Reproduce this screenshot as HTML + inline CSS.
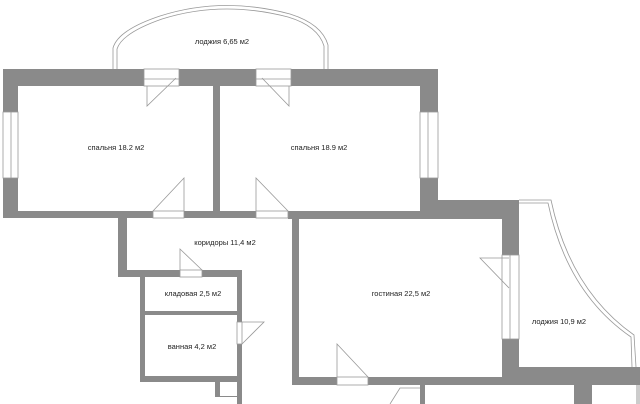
<!DOCTYPE html>
<html><head><meta charset="utf-8"><style>
html,body{margin:0;padding:0;background:#fff;width:640px;height:404px;overflow:hidden}
svg{display:block}
text{font-family:"Liberation Sans",sans-serif;font-size:7.5px;fill:#222}
</style></head><body>
<svg width="640" height="404" viewBox="0 0 640 404" xmlns="http://www.w3.org/2000/svg">
<g fill="#8a8a8a">
<!-- top wall -->
<rect x="3" y="69" width="141" height="17"/>
<rect x="179" y="69" width="77" height="17"/>
<rect x="291" y="69" width="147" height="17"/>
<!-- left wall -->
<rect x="3" y="69" width="15" height="43"/>
<rect x="3" y="178" width="15" height="40"/>
<!-- right bedroom2 wall -->
<rect x="420" y="69" width="18" height="43"/>
<rect x="420" y="178" width="18" height="40"/>
<rect x="420" y="200" width="99" height="18"/>
<rect x="502" y="200" width="17" height="55"/>
<rect x="502" y="339" width="17" height="46"/>
<rect x="502" y="367" width="138" height="18"/>
<!-- divider -->
<rect x="213" y="86" width="7" height="130"/>
<!-- bedroom bottom wall -->
<rect x="3" y="211" width="150" height="7"/>
<rect x="184" y="211" width="72" height="7"/>
<rect x="288" y="211" width="215" height="8"/>
<!-- corridor -->
<rect x="118" y="211" width="9" height="66"/>
<rect x="118" y="270" width="62" height="7"/>
<rect x="202" y="270" width="40" height="7"/>
<rect x="140" y="270" width="5" height="112"/>
<rect x="140" y="311" width="102" height="4"/>
<rect x="237" y="270" width="5" height="52"/>
<rect x="237" y="344" width="5" height="60"/>
<rect x="140" y="376" width="102" height="6"/>
<rect x="215" y="376" width="27" height="21"/>
<!-- living -->
<rect x="292" y="211" width="7" height="173"/>
<rect x="292" y="377" width="45" height="8"/>
<rect x="368" y="377" width="140" height="8"/>
<rect x="420" y="385" width="5" height="19"/>
<rect x="574" y="385" width="18" height="19"/>
</g>
<rect x="220" y="382" width="17" height="14" fill="#fff"/>
<rect x="636" y="385" width="4" height="19" fill="#ccc"/>
<g fill="none" stroke="#999" stroke-width="0.8">
<!-- windows -->
<rect x="144" y="69" width="35" height="17"/><line x1="144" y1="79" x2="179" y2="79"/>
<rect x="256" y="69" width="35" height="17"/><line x1="256" y1="79" x2="291" y2="79"/>
<rect x="3" y="112" width="15" height="66"/><line x1="11" y1="112" x2="11" y2="178"/>
<rect x="420" y="112" width="18" height="66"/><line x1="428" y1="112" x2="428" y2="178"/>
<rect x="502" y="255" width="17" height="84"/><line x1="510" y1="255" x2="510" y2="339"/>
<!-- doors -->
<rect x="153" y="211" width="31" height="7"/><path d="M153,211 L184,178 L184,211"/>
<rect x="256" y="211" width="32" height="7"/><path d="M288,211 L256,178 L256,211"/>
<path d="M147,86 L147,106 L176,78"/>
<path d="M289,86 L289,106 L262,78"/>
<rect x="180" y="270" width="22" height="7"/><path d="M202,270 L180,249 L180,270"/>
<rect x="237" y="322" width="5" height="22"/><path d="M242,344 L264,322 L242,322"/>
<rect x="337" y="377" width="31" height="8"/><path d="M368,377 L337,344 L337,377"/>
<path d="M509,258 L480,258 L509,288"/>
<path d="M390,404 L400,388 L420,388"/>
<!-- loggia top -->
<path d="M113,69 L113,48 Q118,30 160,16 Q222,-4 290,14 Q322,24 328,45 L328,69"/>
<path d="M117,69 L117,49 Q122,33 162,19 Q222,0 288,17 Q318,26 324,46 L324,69"/>
<!-- loggia right -->
<path d="M519,200 L551,200 Q570,290 634,335 L636,367"/>
<path d="M519,203 L548,203 Q567,293 631,337 L632,367"/>
</g>
<text x="222" y="44" text-anchor="middle">лоджия 6,65 м2</text>
<text x="116" y="150" text-anchor="middle">спальня  18.2 м2</text>
<text x="319" y="150" text-anchor="middle">спальня  18.9 м2</text>
<text x="225" y="245" text-anchor="middle">коридоры 11,4 м2</text>
<text x="193" y="296" text-anchor="middle">кладовая 2,5 м2</text>
<text x="192" y="349" text-anchor="middle">ванная 4,2 м2</text>
<text x="401" y="296" text-anchor="middle">гостиная 22,5 м2</text>
<text x="559" y="324" text-anchor="middle">лоджия 10,9 м2</text>
</svg>
</body></html>
